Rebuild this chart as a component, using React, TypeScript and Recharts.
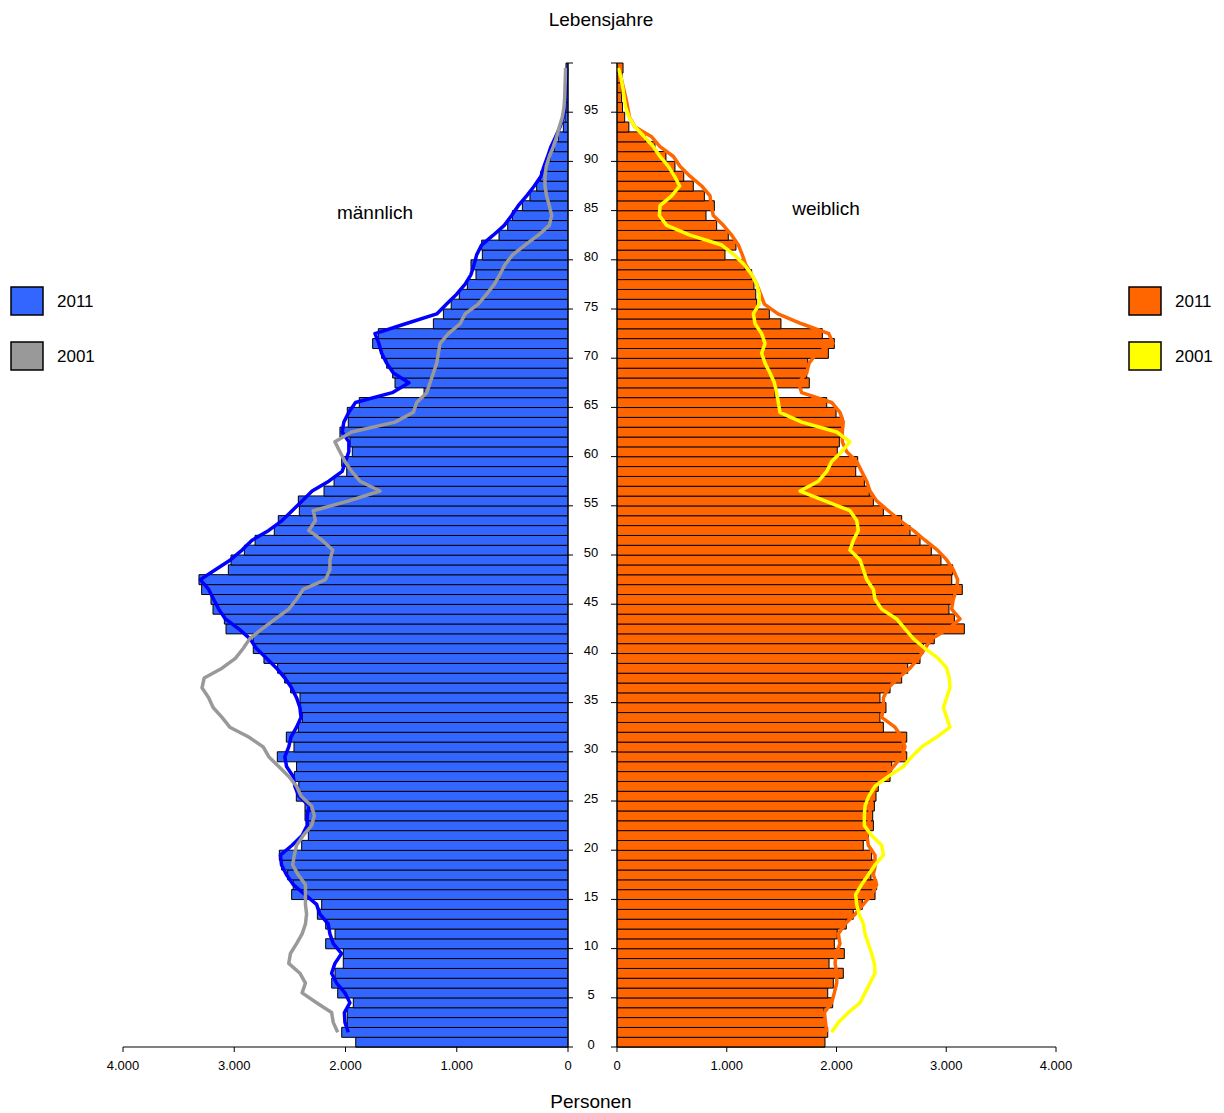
import React from 'react'
import { ComposedChart, Bar, Line, XAxis, YAxis } from 'recharts'

// Ages 0..99, one bar per year
const AGES: number[] = Array.from({ length: 100 }, (_, i) => i)

// männlich 2011 (bars)
const MALE_2011_BARS = [
  1908, 2034, 1984, 1984, 1930, 2070, 2124, 2094, 2020, 2020,
  2178, 2094, 2178, 2253, 2214, 2484, 2470, 2520, 2574, 2595,
  2394, 2334, 2334, 2364, 2364, 2442, 2420, 2460, 2440, 2613,
  2463, 2532, 2424, 2388, 2409, 2409, 2493, 2547, 2610, 2733,
  2829, 2829, 3074, 3089, 3191, 3209, 3293, 3317, 3053, 3029,
  2909, 2813, 2640, 2604, 2415, 2424, 2193, 2103, 1989, 2034,
  1939, 1960, 2050, 1975, 1984, 1876, 1294, 1555, 1576, 1630,
  1675, 1756, 1705, 1210, 1120, 1050, 977, 905, 827, 872,
  770, 776, 620, 542, 500, 410, 342, 282, 246, 192,
  162, 123, 87, 42, 27, 18, 15, 12, 10, 18,
]

// männlich 2011 (line)
const MALE_2011_LINE = [
  null, 1975, 2005, 2010, 1960, 2005, 2080, 2125, 2095, 2035,
  2110, 2140, 2155, 2230, 2260, 2365, 2470, 2530, 2575, 2585,
  2480, 2390, 2345, 2345, 2325, 2420, 2455, 2470, 2530, 2545,
  2510, 2490, 2440, 2400, 2410, 2440, 2485, 2545, 2620, 2710,
  2800, 2860, 2960, 3080, 3140, 3185, 3230, 3305, 3170, 3035,
  2930, 2840, 2690, 2570, 2480, 2390, 2300, 2150, 2030, 2000,
  1970, 1970, 2030, 2015, 1970, 1910, 1580, 1430, 1570, 1630,
  1675, 1700, 1735, 1460, 1180, 1091, 1001, 926, 872, 845,
  821, 777, 672, 573, 507, 447, 372, 303, 243, 216,
  183, 153, 111, 72, 42, 30, 24, 18, 14, 12,
]

// männlich 2001 (line)
const MALE_2001 = [
  null, 2070, 2110, 2125, 2260, 2390, 2360, 2410, 2510, 2495,
  2440, 2390, 2360, 2350, 2360, 2360, 2360, 2425, 2475, 2460,
  2440, 2380, 2305, 2280, 2305, 2400, 2440, 2510, 2600, 2690,
  2740, 2870, 3040, 3110, 3190, 3230, 3290, 3270, 3110, 2990,
  2920, 2860, 2750, 2630, 2510, 2440, 2380, 2180, 2140, 2140,
  2115, 2210, 2330, 2270, 2290, 1970, 1690, 1870, 1945, 2005,
  2050, 2095, 1945, 1555, 1390, 1360, 1270, 1240, 1210, 1180,
  1165, 1150, 1075, 970, 925, 807, 732, 663, 612, 567,
  498, 387, 267, 168, 147, 168, 192, 207, 207, 195,
  168, 132, 102, 78, 51, 36, 30, 27, 24, 21,
]

// weiblich 2011 (bars)
const FEMALE_2011_BARS = [
  1895, 1920, 1895, 1886, 1965, 1920, 1971, 2062, 1932, 2071,
  1980, 2007, 2089, 2153, 2235, 2351, 2366, 2314, 2357, 2320,
  2244, 2290, 2336, 2330, 2345, 2360, 2381, 2488, 2503, 2640,
  2609, 2640, 2427, 2396, 2451, 2396, 2488, 2594, 2649, 2761,
  2791, 2891, 3165, 3074, 3025, 3064, 3146, 3050, 3059, 2952,
  2864, 2761, 2670, 2594, 2427, 2336, 2299, 2254, 2175, 2193,
  2007, 2026, 2057, 2059, 1996, 1911, 1440, 1752, 1729, 1738,
  1926, 1980, 1871, 1494, 1388, 1273, 1264, 1248, 1227, 1166,
  984, 1084, 1014, 908, 811, 887, 796, 695, 608, 528,
  446, 346, 260, 108, 70, 50, 42, 40, 45, 55,
]

// weiblich 2011 (line)
const FEMALE_2011_LINE = [
  null, 1910, 1900, 1890, 1956, 1980, 2002, 2002, 1987, 1996,
  2032, 2017, 2078, 2169, 2245, 2320, 2366, 2336, 2351, 2351,
  2290, 2275, 2290, 2305, 2305, 2330, 2351, 2442, 2518, 2594,
  2624, 2594, 2533, 2412, 2427, 2427, 2472, 2563, 2670, 2746,
  2806, 2867, 3019, 3125, 3049, 3064, 3095, 3104, 3064, 3004,
  2920, 2806, 2700, 2579, 2472, 2366, 2305, 2275, 2229, 2184,
  2093, 2053, 2053, 2062, 2032, 1956, 1683, 1652, 1728, 1750,
  1820, 1968, 1930, 1683, 1467, 1343, 1309, 1273, 1227, 1173,
  1142, 1106, 1045, 969, 878, 857, 848, 772, 665, 574,
  514, 392, 316, 164, 113, 97, 79, 58, 37, 19,
]

// weiblich 2001 (line)
const FEMALE_2001 = [
  null, 1956, 2017, 2108, 2214, 2260, 2305, 2351, 2345, 2320,
  2290, 2260, 2245, 2205, 2184, 2175, 2229, 2290, 2351, 2427,
  2412, 2320, 2254, 2254, 2260, 2295, 2351, 2472, 2609, 2685,
  2776, 2913, 3034, 3004, 2974, 3004, 3034, 3028, 3004, 2928,
  2806, 2700, 2624, 2548, 2412, 2351, 2336, 2275, 2245, 2214,
  2123, 2154, 2199, 2184, 2123, 1895, 1668, 1835, 1911, 1956,
  2047, 2123, 2002, 1683, 1485, 1470, 1455, 1434, 1394, 1349,
  1318, 1349, 1318, 1258, 1243, 1294, 1297, 1273, 1227, 1160,
  1069, 954, 665, 453, 386, 392, 498, 571, 523, 468,
  392, 331, 249, 164, 110, 79, 64, 52, 37, 12,
]

const X_TICKS = [0, 1000, 2000, 3000, 4000]

const rows = AGES.map((age, i) => ({
  age,
  m2011: MALE_2011_BARS[i],
  m2011l: MALE_2011_LINE[i],
  m2001: MALE_2001[i],
  f2011: FEMALE_2011_BARS[i],
  f2011l: FEMALE_2011_LINE[i],
  f2001: FEMALE_2001[i],
}))

const FONT = '"Liberation Sans", Arial, sans-serif'
const HALF_BAND = 984 / 100 / 2

// German thousands separator
const fmt = (v: number) => (v === 0 ? '0' : `${v / 1000}.000`)

// tick marks sit on the year boundary, not the bar centre
function LeftAgeTick(props: any) {
  const { y, payload } = props
  const age = payload.value
  return (
    <g>
      {age % 5 === 0 && <line x1={568} x2={573} y1={y + HALF_BAND} y2={y + HALF_BAND} stroke="#000" />}
      {age === 99 && <line x1={568} x2={573} y1={y - HALF_BAND} y2={y - HALF_BAND} stroke="#000" />}
    </g>
  )
}

function RightAgeTick(props: any) {
  const { y, payload } = props
  const age = payload.value
  return (
    <g>
      {age % 5 === 0 && <line x1={51} x2={57} y1={y + HALF_BAND} y2={y + HALF_BAND} stroke="#000" />}
      {age === 99 && <line x1={51} x2={57} y1={y - HALF_BAND} y2={y - HALF_BAND} stroke="#000" />}
      {age % 5 === 0 && (
        <text x={31} y={y + 2} textAnchor="middle" dominantBaseline="central" fontSize={13} fill="#000">
          {age}
        </text>
      )}
    </g>
  )
}

function LegendItem({ x, y, color, label }: { x: number; y: number; color: string; label: string }) {
  return (
    <g>
      <rect x={x} y={y} width={32} height={28} fill={color} stroke="#000" strokeWidth={1.5} />
      <text x={x + 46} y={y + 14} dominantBaseline="central" fontSize={17} fill="#000">
        {label}
      </text>
    </g>
  )
}

export default function App() {
  return (
    <div style={{ position: 'absolute', left: 0, top: 0, width: 1224, height: 1113, fontFamily: FONT, background: '#fff' }}>
      <div style={{ position: 'absolute', left: 0, top: 0 }}>
        <ComposedChart
          width={600}
          height={1113}
          layout="vertical"
          data={rows}
          margin={{ top: 63, right: 0, bottom: 36, left: 123 }}
          barCategoryGap={0}
          barGap={0}
        >
          <XAxis
            type="number"
            reversed
            domain={[0, 4000]}
            ticks={X_TICKS}
            tickFormatter={fmt}
            height={30}
            stroke="#000"
            tickSize={5}
            tickMargin={9}
            tick={{ fontSize: 13, fill: '#000' }}
          />
          <YAxis
            type="category"
            dataKey="age"
            orientation="right"
            reversed
            width={32}
            interval={0}
            stroke="#000"
            tickLine={false}
            tick={<LeftAgeTick />}
          />
          <Bar dataKey="m2011" fill="#3366ff" stroke="#000" strokeWidth={1} isAnimationActive={false} />
          <Line dataKey="m2011l" stroke="#0000ff" strokeWidth={3.5} strokeLinejoin="round" dot={false} isAnimationActive={false} />
          <Line dataKey="m2001" stroke="#999999" strokeWidth={3.5} strokeLinejoin="round" dot={false} isAnimationActive={false} />
        </ComposedChart>
      </div>
      <div style={{ position: 'absolute', left: 560, top: 0 }}>
        <ComposedChart
          width={664}
          height={1113}
          layout="vertical"
          data={rows}
          margin={{ top: 63, right: 168, bottom: 36, left: 0 }}
          barCategoryGap={0}
          barGap={0}
        >
          <XAxis
            type="number"
            domain={[0, 4000]}
            ticks={X_TICKS}
            tickFormatter={fmt}
            height={30}
            stroke="#000"
            tickSize={5}
            tickMargin={9}
            tick={{ fontSize: 13, fill: '#000' }}
          />
          <YAxis
            type="category"
            dataKey="age"
            orientation="left"
            reversed
            width={57}
            interval={0}
            stroke="#000"
            tickLine={false}
            tick={<RightAgeTick />}
          />
          <Bar dataKey="f2011" fill="#ff6600" stroke="#000" strokeWidth={1} isAnimationActive={false} />
          <Line dataKey="f2011l" stroke="#ff6600" strokeWidth={3.5} strokeLinejoin="round" dot={false} isAnimationActive={false} />
          <Line dataKey="f2001" stroke="#ffff00" strokeWidth={3.5} strokeLinejoin="round" dot={false} isAnimationActive={false} />
        </ComposedChart>
      </div>
      <svg width={1224} height={1113} style={{ position: 'absolute', left: 0, top: 0, pointerEvents: 'none' }}>
        <text x={601} y={19} textAnchor="middle" dominantBaseline="central" fontSize={19} fill="#000">Lebensjahre</text>
        <text x={591} y={1101} textAnchor="middle" dominantBaseline="central" fontSize={19} fill="#000">Personen</text>
        <text x={375} y={212} textAnchor="middle" dominantBaseline="central" fontSize={19} fill="#000">männlich</text>
        <text x={826} y={208} textAnchor="middle" dominantBaseline="central" fontSize={19} fill="#000">weiblich</text>
        <LegendItem x={11} y={287} color="#3366ff" label="2011" />
        <LegendItem x={11} y={342} color="#999999" label="2001" />
        <LegendItem x={1129} y={287} color="#ff6600" label="2011" />
        <LegendItem x={1129} y={342} color="#ffff00" label="2001" />
      </svg>
    </div>
  )
}
